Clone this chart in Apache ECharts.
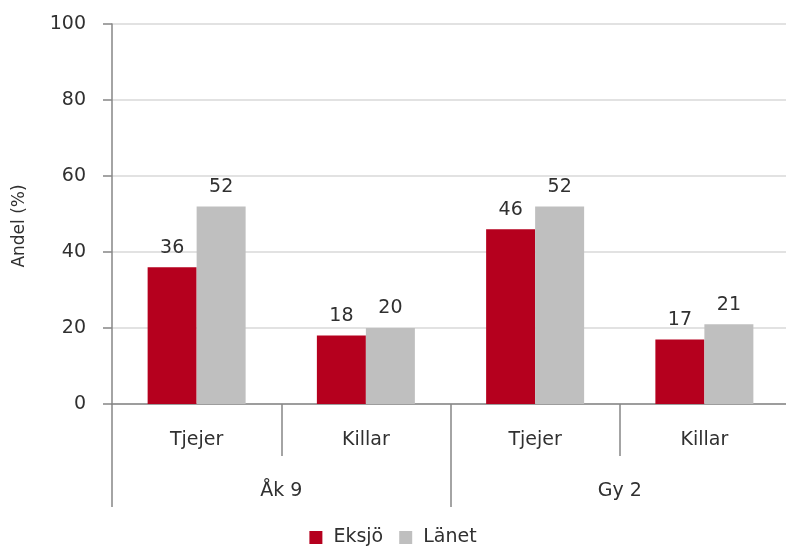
<!DOCTYPE html>
<html>
<head>
<meta charset="utf-8">
<script src="https://cdn.jsdelivr.net/npm/echarts@6/dist/echarts.min.js"></script>
<style>
  html, body { margin: 0; padding: 0; background: #fff; }
  #chart { width: 786px; height: 555px; }
</style>
</head>
<body>
<div id="chart"></div>
<script>
var categories = ['Tjejer', 'Killar', 'Tjejer', 'Killar'];
var groups = ['Åk 9', 'Gy 2'];
var eksjo = [36, 18, 46, 17];
var lanet = [52, 20, 52, 21];
var yTicks = [0, 20, 40, 60, 80, 100];

var chartDom = document.getElementById('chart');
var myChart = echarts.init(chartDom);
var font = 'DejaVu Sans';
var textColor = '#303030';

var option = {
  animation: false,
  textStyle: { fontFamily: font },
  // plot runs a few pixels past the right edge, as in the original
  grid: { left: 112, width: 677, top: 24, bottom: 151, containLabel: false, outerBoundsMode: 'none' },
  legend: {
    bottom: 3,
    left: 'center',
    icon: 'rect',
    itemWidth: 13,
    itemHeight: 13,
    itemGap: 16,
    textStyle: { fontSize: 19, color: textColor, fontFamily: font, padding: [0, 0, 0, 6] },
    data: ['Eksjö', 'Länet']
  },
  xAxis: [
    {
      type: 'category',
      data: categories,
      axisLine: { lineStyle: { color: '#868686', width: 1.5 } },
      axisTick: { show: true, length: 52, lineStyle: { color: '#868686', width: 1.5 } },
      axisLabel: { margin: 27, fontSize: 19, color: textColor }
    },
    {
      type: 'category',
      data: groups,
      position: 'bottom',
      axisLine: { show: false },
      axisTick: { show: true, length: 103, lineStyle: { color: '#868686', width: 1.5 } },
      axisLabel: { margin: 78, fontSize: 19, color: textColor }
    }
  ],
  yAxis: {
    type: 'value',
    min: yTicks[0],
    max: yTicks[yTicks.length - 1],
    interval: 20,
    name: 'Andel (%)',
    nameLocation: 'middle',
    nameGap: 84,
    nameTextStyle: { fontSize: 17, color: textColor, padding: [0, 24, 0, 0] },
    axisLine: { show: true, lineStyle: { color: '#868686', width: 1.5 } },
    axisTick: { show: true, length: 9, lineStyle: { color: '#868686', width: 1.5 } },
    axisLabel: { margin: 26, fontSize: 19, color: textColor },
    splitLine: { lineStyle: { color: '#D9D9D9', width: 1.5 } }
  },
  series: [
    {
      name: 'Eksjö',
      type: 'bar',
      data: eksjo,
      barWidth: 49,
      barGap: '0%',
      itemStyle: { color: '#B5001E' },
      label: { show: true, position: 'top', distance: 10, fontSize: 19, color: textColor }
    },
    {
      name: 'Länet',
      type: 'bar',
      data: lanet,
      barWidth: 49,
      barGap: '0%',
      itemStyle: { color: '#BFBFBF' },
      label: { show: true, position: 'top', distance: 10, fontSize: 19, color: textColor }
    }
  ]
};

option && myChart.setOption(option);
</script>
</body>
</html>
